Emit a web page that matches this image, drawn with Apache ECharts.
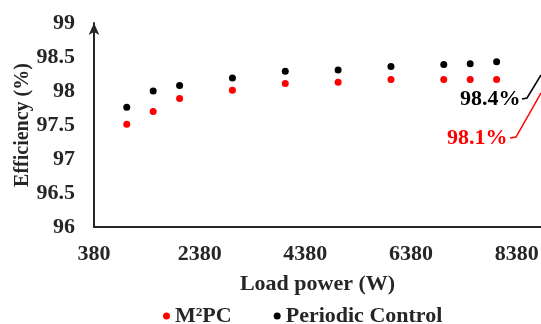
<!DOCTYPE html>
<html>
<head>
<meta charset="utf-8">
<script src="https://cdn.jsdelivr.net/npm/echarts@6/dist/echarts.min.js"></script>
<style>
html, body { margin: 0; padding: 0; background: #fff; }
#chart { width: 541px; height: 324px; }
</style>
</head>
<body>
<div id="chart"></div>
<script>
// load power (W)
var loadPower = [1000, 1500, 2000, 3000, 4000, 5000, 6000, 7000, 7500, 8000];
// efficiency (%)
var m2pcEff = [97.51, 97.70, 97.89, 98.01, 98.11, 98.13, 98.17, 98.17, 98.17, 98.17];
var periodicEff = [97.76, 98.00, 98.08, 98.19, 98.29, 98.31, 98.36, 98.39, 98.40, 98.43];
var seriesNames = ['M\u00b2PC', 'Periodic Control'];

function pairs(xs, ys) {
    var out = [];
    for (var i = 0; i < xs.length; i++) {
        out.push([xs[i], ys[i]]);
    }
    return out;
}

var myChart = echarts.init(document.getElementById('chart'));
var font = '"Liberation Serif", "Times New Roman", serif';
var txt = '#262626';

var option = {
    animation: false,
    grid: { left: 94, right: 0, top: 23, bottom: 97, containLabel: false, outerBoundsMode: 'none' },
    legend: {
        data: seriesNames,
        left: 158, top: 300,
        icon: 'circle', itemWidth: 7, itemHeight: 7, itemGap: 42,
        textStyle: { fontFamily: font, fontWeight: 'bold', fontSize: 22, color: txt }
    },
    xAxis: {
        type: 'value', min: 380, max: 8840, interval: 2000,
        name: 'Load power (W)', nameLocation: 'middle', nameGap: 46, nameMoveOverlap: false,
        nameTextStyle: { fontFamily: font, fontWeight: 'bold', fontSize: 22, color: txt },
        splitLine: { show: false },
        axisTick: { show: false },
        axisLine: { lineStyle: { color: txt, width: 2 } },
        axisLabel: { fontFamily: font, fontWeight: 'bold', fontSize: 22, color: txt, margin: 16, showMaxLabel: false,
            formatter: function (v) { return String(v); } }
    },
    yAxis: {
        type: 'value', min: 96, max: 99, interval: 0.5,
        name: 'Efficiency (%)', nameLocation: 'middle', nameGap: 61, nameMoveOverlap: false,
        nameTextStyle: { fontFamily: font, fontWeight: 'bold', fontSize: 20, color: txt },
        splitLine: { show: false },
        axisTick: { show: false },
        axisLine: { show: true, lineStyle: { color: txt, width: 2 }, symbol: ['none', 'arrow'], symbolSize: [8, 12] },
        axisLabel: { fontFamily: font, fontWeight: 'bold', fontSize: 22, color: txt, margin: 19 }
    },
    series: [{
        name: seriesNames[0], type: 'scatter', symbolSize: 7,
        itemStyle: { color: '#ff0000', opacity: 1 },
        data: pairs(loadPower, m2pcEff)
    }, {
        name: seriesNames[1], type: 'scatter', symbolSize: 7,
        itemStyle: { color: '#000000', opacity: 1 },
        data: pairs(loadPower, periodicEff)
    }],
    graphic: [
        { type: 'text', left: 460, top: 88, style: { text: '98.4%', fill: '#000', font: 'bold 22px ' + font } },
        { type: 'polyline', shape: { points: [[522, 99], [527, 98], [541, 75]] }, style: { stroke: '#000', lineWidth: 1.5, fill: null } },
        { type: 'text', left: 447, top: 127, style: { text: '98.1%', fill: '#ff0000', font: 'bold 22px ' + font } },
        { type: 'polyline', shape: { points: [[510, 138], [516, 137], [541, 93]] }, style: { stroke: '#ff0000', lineWidth: 1.5, fill: null } }
    ]
};
myChart.setOption(option);
</script>
</body>
</html>
